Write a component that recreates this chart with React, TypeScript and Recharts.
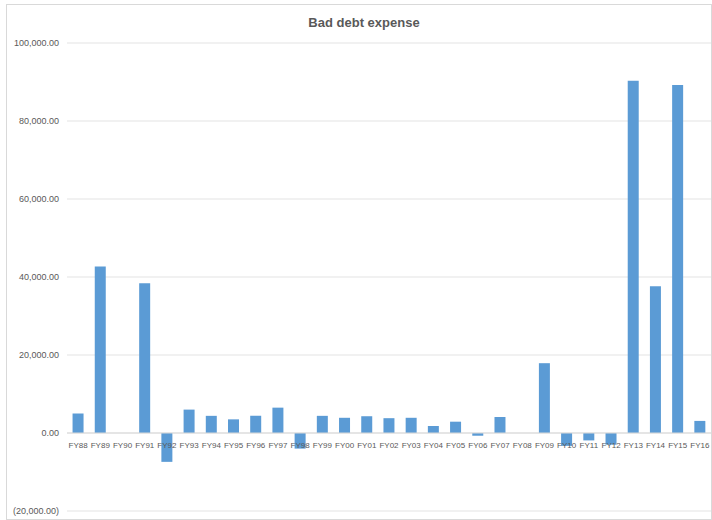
import React from "react"
import { Bar, BarChart, CartesianGrid, ReferenceLine, XAxis, YAxis } from "recharts"

const years = [
  "FY88", "FY89", "FY90", "FY91", "FY92", "FY93", "FY94", "FY95", "FY96", "FY97",
  "FY98", "FY99", "FY00", "FY01", "FY02", "FY03", "FY04", "FY05", "FY06", "FY07",
  "FY08", "FY09", "FY10", "FY11", "FY12", "FY13", "FY14", "FY15", "FY16",
]

const badDebt = [
  5000, 42700, 0, 38400, -7400, 6000, 4400, 3500, 4400, 6500,
  -4000, 4400, 3900, 4300, 3800, 3900, 1800, 2900, -700, 4100,
  0, 17900, -3300, -1900, -3000, 90300, 37600, 89200, 3100,
]

const yTicks = [-20000, 0, 20000, 40000, 60000, 80000, 100000]

const data = years.map((name, i) => ({ name, value: badDebt[i] }))

const W = 712
const H = 520
const TOP = 43
const X_AXIS_H = 2
const BOTTOM = 7
const Y_MIN = yTicks[0]
const Y_MAX = yTicks[yTicks.length - 1]
const plotH = H - TOP - BOTTOM - X_AXIS_H
const zeroY = TOP + ((Y_MAX - 0) / (Y_MAX - Y_MIN)) * plotH

const fmt = (v: number) => {
  const s = Math.abs(v).toLocaleString("en-US", { minimumFractionDigits: 2, maximumFractionDigits: 2 })
  return v < 0 ? `(${s})` : s
}

const XTick = (props: any) => {
  const { x, payload } = props
  return (
    <text x={x} y={zeroY + 15} textAnchor="middle" fontSize={8} fill="#595959" fontFamily="Liberation Sans">
      {payload.value}
    </text>
  )
}

export default function App() {
  return (
    <div style={{ position: "absolute", left: 0, top: 0, width: W, height: H, background: "#fff" }}>
      <div
        style={{
          position: "absolute",
          left: 6,
          top: 4,
          width: W - 6,
          height: H - 4,
          border: "1px solid #d9d9d9",
          boxSizing: "border-box",
        }}
      />
      <div style={{ position: "absolute", left: 0, top: 0 }}>
        <BarChart
          width={W}
          height={H}
          data={data}
          margin={{ top: TOP, right: 1, bottom: BOTTOM, left: 0 }}
          barCategoryGap="25%"
        >
          <text x={364} y={27} textAnchor="middle" fontSize={13} fontWeight="bold" fill="#595959" fontFamily="Liberation Sans">
            Bad debt expense
          </text>
          <CartesianGrid vertical={false} stroke="#e3e3e3" />
          <XAxis dataKey="name" height={X_AXIS_H} axisLine={false} tickLine={false} tick={XTick} interval={0} />
          <YAxis
            width={67}
            domain={[Y_MIN, Y_MAX]}
            ticks={yTicks}
            axisLine={false}
            tickLine={false}
            tickFormatter={fmt}
            tick={{ fontSize: 9, fill: "#595959", fontFamily: "Liberation Sans" }}
          />
          <ReferenceLine y={0} stroke="#d9d9d9" />
          <Bar dataKey="value" fill="#5b9bd5" isAnimationActive={false} />
        </BarChart>
      </div>
    </div>
  )
}
